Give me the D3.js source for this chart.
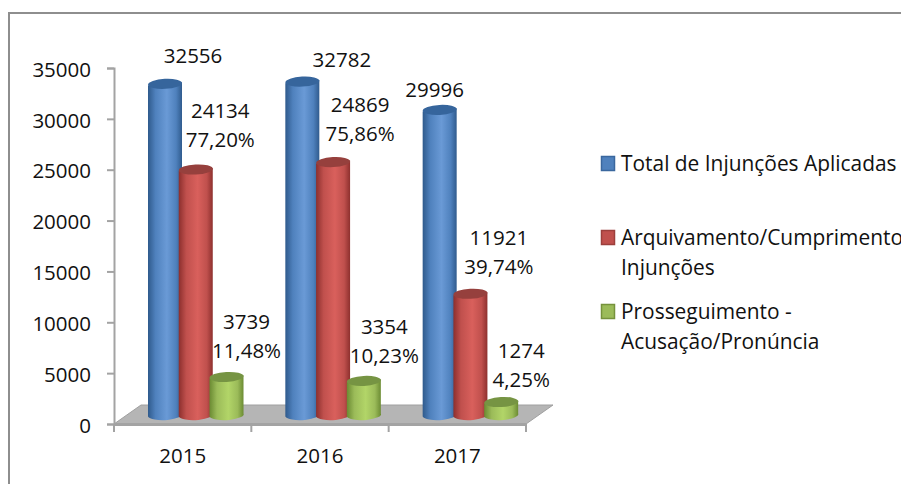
<!DOCTYPE html>
<html><head><meta charset="utf-8">
<script src="https://cdn.jsdelivr.net/npm/d3@7"></script>
<style>html,body{margin:0;padding:0;background:#fff;overflow:hidden}svg{display:block}
text{font-family:"Open Sans","Noto Sans",sans-serif;fill:#111}</style></head><body>
<svg id="c" width="901" height="484"></svg>
<script>
const years = ["2015","2016","2017"];
const seriesNames = ["Total de Injunções Aplicadas","Arquivamento/Cumprimento Injunções","Prosseguimento - Acusação/Pronúncia"];
const total = [32556,32782,29996];
const arquivamento = [24134,24869,11921];
const prosseguimento = [3739,3354,1274];
const arquivamentoPct = ["77,20%","75,86%","39,74%"];
const prosseguimentoPct = ["11,48%","10,23%","4,25%"];
const yTicks = [0,5000,10000,15000,20000,25000,30000,35000];

const svg = d3.select("#c");
const W=901,H=484, axisX=114, axisR=526, axisY=424, topY=68, depthX=27, depthY=19;
const fontPx=20.5;
const y = d3.scaleLinear().domain([0,35000]).range([axisY,topY]);
const x = d3.scaleBand().domain(years).range([axisX,axisR]);
const s = d3.scalePoint().domain([0,1,2]).range([51,112.5]);
const baseY = 415, rx=17, ry=5;
const palette=[
 {d:"#2f5a8c",m:"#4f81bd",l:"#6a9ad6",t:"#36659c",e:"#3a679e"},
 {d:"#8c2f2d",m:"#c0504d",l:"#d9605c",t:"#96403d",e:"#9c3f3c"},
 {d:"#6a8a32",m:"#9bbb59",l:"#b2d568",t:"#769443",e:"#76923c"}];
const defs=svg.append("defs");
palette.forEach((p,i)=>{
  const g=defs.append("linearGradient").attr("id","cyl"+i);
  [[0,p.d],[.22,p.m],[.55,p.l],[.82,p.m],[1,p.d]].forEach(a=>g.append("stop").attr("offset",a[0]).attr("stop-color",a[1]));
});
// frame
svg.append("path").attr("d",`M9,${H}V13H${W}`).attr("fill","none").attr("stroke","#8e8e8e").attr("stroke-width",2);
// floor
svg.append("path").attr("d",`M${axisX},${axisY}L${axisX+depthX},${axisY-depthY}H${axisR+depthX}L${axisR},${axisY}Z`)
  .attr("fill","#b5b5b5").attr("stroke","#a0a0a0").attr("stroke-width",1);
// axes
const gy=svg.append("g").attr("transform",`translate(${axisX},0)`)
  .call(d3.axisLeft(y).tickValues(yTicks).tickSize(7).tickPadding(16).tickFormat(d3.format("d")));
gy.selectAll("path,line").attr("stroke","#a3a3a3").attr("stroke-width",2);
gy.selectAll("text").attr("font-size",fontPx).attr("fill","#111").attr("font-family",'"Open Sans"').attr("dy","0.4em");
const gx=svg.append("g").attr("transform",`translate(0,${axisY})`)
  .call(d3.axisBottom(x).tickSize(0).tickPadding(24));
gx.select("path").attr("stroke","#a3a3a3").attr("stroke-width",3);
gx.selectAll("text").attr("font-size",fontPx).attr("fill","#111").attr("font-family",'"Open Sans"');
d3.range(years.length+1).forEach(i=>{
  const px=axisX+i*x.step();
  gx.append("line").attr("x1",px).attr("x2",px).attr("y1",0).attr("y2",8).attr("stroke","#a3a3a3").attr("stroke-width",2);
});
// cylinders
const seriesData=[total,arquivamento,prosseguimento];
const tilt=-3;
years.forEach((yr,gi)=>{
  seriesData.forEach((vals,si)=>{
    const cx=x(yr)+s(si), v=vals[gi], h=y(0)-y(v), top=baseY-h, p=palette[si];
    const g=svg.append("g");
    g.append("path")
     .attr("d",`M${cx-rx},${top+1.6}L${cx-rx},${baseY+1.6}A${rx},${ry} ${tilt} 0 0 ${cx+rx},${baseY-1.6}L${cx+rx},${top-1.6}Z`)
     .attr("fill",`url(#cyl${si})`);
    g.append("ellipse").attr("cx",cx).attr("cy",top).attr("rx",rx).attr("ry",ry)
     .attr("transform",`rotate(${tilt} ${cx} ${top})`).attr("fill",p.t);
  });
});
// data labels: offsets from each bar's top and centre, indexed [year][series]
const labelDx=[[28,24.5,20],[39.5,27,20.5],[-5,28.5,20]];
const labelDy=[[-28,-58.5,-55],[-22,-57,-54],[-20,-56,-51]];
const lineGap=29;
seriesData.forEach((vals,si)=>{
  vals.forEach((v,gi)=>{
    const cx=x(years[gi])+s(si), top=baseY-(y(0)-y(v));
    const lx=cx+labelDx[gi][si], ly=top+labelDy[gi][si];
    svg.append("text").attr("x",lx).attr("y",ly).attr("dy","0.35em").attr("text-anchor","middle").attr("font-size",fontPx).text(v);
    const pct= si===1?arquivamentoPct[gi]: si===2?prosseguimentoPct[gi]:null;
    if(pct) svg.append("text").attr("x",lx).attr("y",ly+lineGap).attr("dy","0.35em").attr("text-anchor","middle").attr("font-size",fontPx).text(pct);
  });
});
// legend
const legendRows=[[seriesNames[0]],["Arquivamento/Cumprimento","Injunções"],["Prosseguimento -","Acusação/Pronúncia"]];
const legendY=[163.5,237.5,311.5];
legendRows.forEach((lines,i)=>{
  svg.append("rect").attr("x",601.5).attr("y",legendY[i]-7).attr("width",13).attr("height",14)
    .attr("fill",palette[i].m).attr("stroke",palette[i].e).attr("stroke-width",1.5);
  lines.forEach((t,j)=>svg.append("text").attr("x",621).attr("y",legendY[i]+j*30).attr("dy","0.35em").attr("font-size",20.9).text(t));
});
</script></body></html>
